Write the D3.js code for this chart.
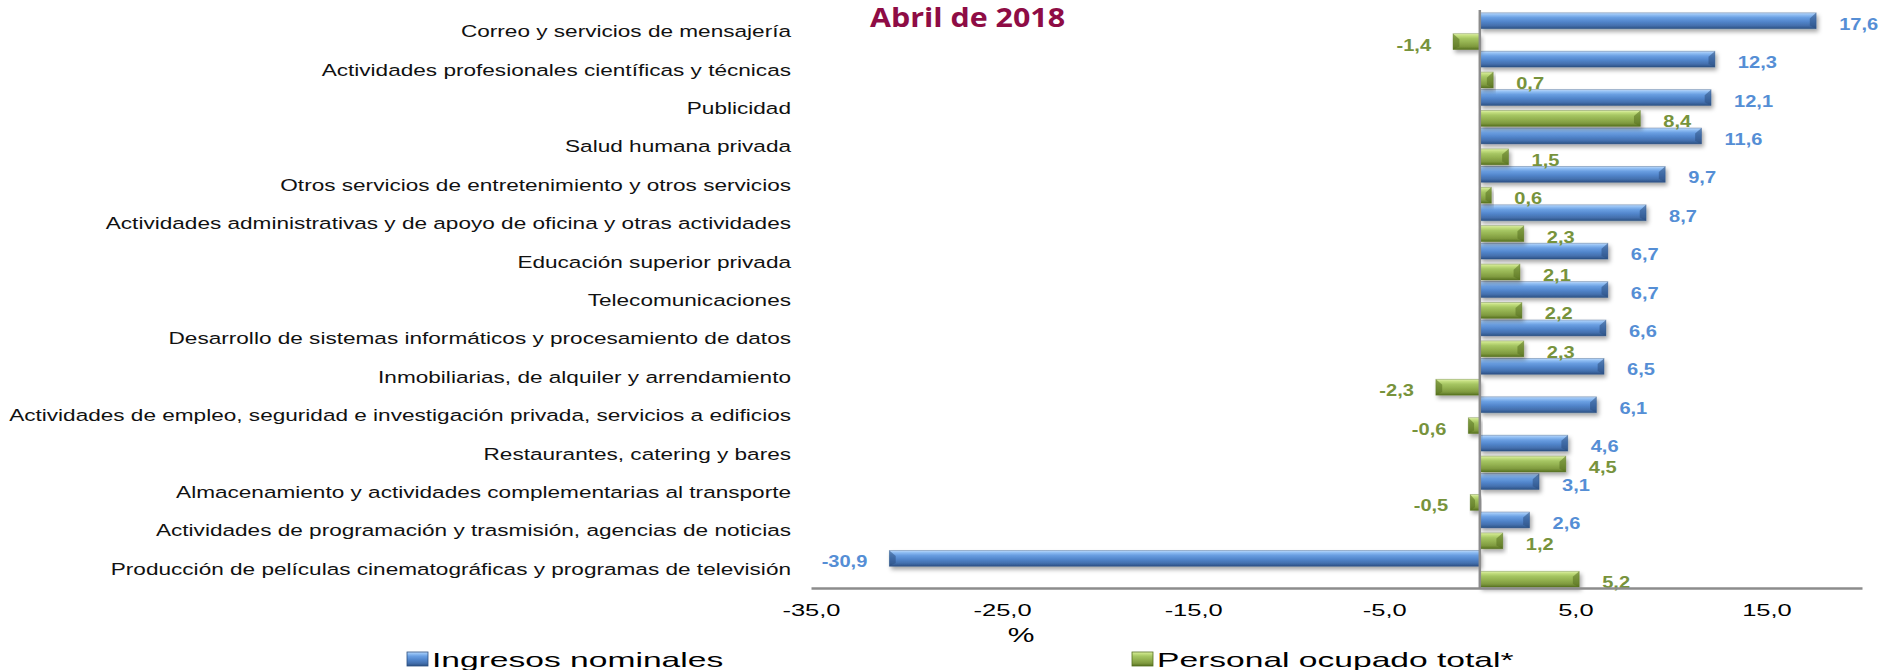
<!DOCTYPE html>
<html>
<head>
<meta charset="utf-8">
<script src="https://cdn.jsdelivr.net/npm/d3@7"></script>
<style>
  body { margin: 0; background: #fff; }
  svg { display: block; }
</style>
</head>
<body>
<div id="chart"></div>
<script>
const categories = [
  "Correo y servicios de mensajería",
  "Actividades profesionales científicas y técnicas",
  "Publicidad",
  "Salud humana privada",
  "Otros servicios de entretenimiento y otros servicios",
  "Actividades administrativas y de apoyo de oficina y otras actividades",
  "Educación superior privada",
  "Telecomunicaciones",
  "Desarrollo de sistemas informáticos y procesamiento de datos",
  "Inmobiliarias, de alquiler y arrendamiento",
  "Actividades de empleo, seguridad e investigación privada, servicios a edificios",
  "Restaurantes, catering y bares",
  "Almacenamiento y actividades complementarias al transporte",
  "Actividades de programación y trasmisión, agencias de noticias",
  "Producción de películas cinematográficas y programas de televisión"
];
const ingresos = [17.6, 12.3, 12.1, 11.6, 9.7, 8.7, 6.7, 6.7, 6.6, 6.5, 6.1, 4.6, 3.1, 2.6, -30.9];
const personal = [-1.4, 0.7, 8.4, 1.5, 0.6, 2.3, 2.1, 2.2, 2.3, -2.3, -0.6, 4.5, -0.5, 1.2, 5.2];
const seriesNames = ["Ingresos nominales", "Personal ocupado total*"];
const tickValues = [-35, -25, -15, -5, 5, 15];
const titleText = "Abril de 2018";

(() => {
    const width = 1887, height = 670;
    const fmt = v => v.toFixed(1).replace(".", ",");

    const series = [
        { key: "ing", name: seriesNames[0], values: ingresos, grad: "gBlue", label: "#558ED5", edge: "#2B4F80" },
        { key: "per", name: seriesNames[1], values: personal, grad: "gGreen", label: "#77933C", edge: "#55701F" }
    ];

    const x = d3.scaleLinear().domain([-35, 20]).range([811, 1862]);
    const y = d3.scaleBand().domain(categories).range([12, 588]).padding(0);
    const ySub = d3.scaleBand().domain(series.map(s => s.key))
        .range([0, y.bandwidth()]).paddingInner(0.24).paddingOuter(0.04);

    const svg = d3.select("#chart").append("svg")
        .attr("width", width).attr("height", height);

    const defs = svg.append("defs");
    const grads = {
        gBlue: [["0%", "#C2DCFA"], ["12%", "#93C0F4"], ["30%", "#6A9FE2"], ["55%", "#5286CC"], ["80%", "#4470AE"], ["100%", "#2C5184"]],
        gGreen: [["0%", "#E2F2B0"], ["12%", "#C4DF80"], ["30%", "#A6C663"], ["55%", "#93B150"], ["80%", "#7F9A3F"], ["100%", "#56701F"]]
    };
    Object.entries(grads).forEach(([id, stops]) => {
        const g = defs.append("linearGradient").attr("id", id)
            .attr("x1", 0).attr("y1", 0).attr("x2", 0).attr("y2", 1);
        stops.forEach(([o, c]) => g.append("stop").attr("offset", o).attr("stop-color", c));
    });
    defs.append("filter").attr("id", "shadow")
        .attr("x", "-10%").attr("y", "-30%").attr("width", "130%").attr("height", "190%")
        .append("feDropShadow")
        .attr("dx", 2).attr("dy", 3).attr("stdDeviation", 2)
        .attr("flood-color", "#000").attr("flood-opacity", 0.35);

    // title (kept just inside the top edge)
    svg.append("text")
        .attr("transform", "translate(870,27) scale(1.17,1)")
        .style("font-family", "'Open Sans', sans-serif")
        .style("font-weight", 700)
        .style("font-size", "26px")
        .attr("fill", "#8E0C45")
        .text(titleText);

    // category labels
    svg.append("g").selectAll("text")
        .data(categories)
        .enter().append("text")
        .attr("transform", d => `translate(791,${y(d) + y.bandwidth() / 2 + 6}) scale(1.37,1)`)
        .attr("text-anchor", "end")
        .style("font-family", "'Liberation Sans', Arial, sans-serif")
        .style("font-size", "16.5px")
        .attr("fill", "#111")
        .text(d => d);

    // bars with a small bevel at the outer end
    series.forEach(s => {
        const data = categories.map((c, i) => ({ cat: c, v: s.values[i] }));
        const h = ySub.bandwidth();
        const bars = svg.append("g").selectAll("g")
            .data(data)
            .enter().append("g")
            .attr("filter", "url(#shadow)");

        bars.append("rect")
            .attr("x", d => x(Math.min(0, d.v)))
            .attr("y", d => y(d.cat) + ySub(s.key))
            .attr("width", d => Math.abs(x(d.v) - x(0)))
            .attr("height", h)
            .attr("fill", `url(#${s.grad})`);

        bars.append("path")
            .attr("d", d => {
                const top = y(d.cat) + ySub(s.key), bot = top + h;
                const end = x(d.v), dir = d.v >= 0 ? -1 : 1;
                const b = Math.min(h * 0.4, Math.abs(end - x(0)) / 2);
                return `M${end},${top}L${end + dir * b},${top + h * 0.35}L${end + dir * b},${bot - h * 0.2}L${end},${bot}Z`;
            })
            .attr("fill", s.edge)
            .attr("opacity", 0.55);

        bars.append("rect")
            .attr("x", d => x(Math.min(0, d.v)))
            .attr("y", d => y(d.cat) + ySub(s.key))
            .attr("width", d => Math.abs(x(d.v) - x(0)))
            .attr("height", h)
            .attr("fill", "none")
            .attr("stroke", s.edge)
            .attr("stroke-opacity", 0.45)
            .attr("stroke-width", 0.8);

        svg.append("g").selectAll("text")
            .data(data)
            .enter().append("text")
            .attr("transform", d => {
                const tx = d.v >= 0 ? x(d.v) + 23 : x(d.v) - 22;
                const ty = y(d.cat) + ySub(s.key) + h / 2 + 9;
                return `translate(${tx},${ty}) scale(1.18,1)`;
            })
            .attr("text-anchor", d => d.v >= 0 ? "start" : "end")
            .style("font-family", "'Liberation Sans', Arial, sans-serif")
            .style("font-weight", 700)
            .style("font-size", "17px")
            .attr("fill", s.label)
            .text(d => fmt(d.v));
    });

    // zero line
    svg.append("line")
        .attr("x1", x(0)).attr("x2", x(0))
        .attr("y1", y.range()[0] - 2).attr("y2", y.range()[1])
        .attr("stroke", "#8C8C8C").attr("stroke-width", 2.5);

    // x axis
    const axis = svg.append("g")
        .attr("transform", `translate(0,${y.range()[1]})`)
        .call(d3.axisBottom(x).tickValues(tickValues).tickSize(0).tickFormat(fmt));
    axis.select(".domain").attr("stroke", "#8C8C8C").attr("stroke-width", 2.5);
    axis.selectAll("text")
        .attr("y", 0)
        .attr("dy", 0)
        .attr("transform", "translate(0,28) scale(1.5,1)")
        .style("font-family", "'Liberation Sans', Arial, sans-serif")
        .style("font-size", "17px")
        .attr("fill", "#000");

    svg.append("text")
        .attr("transform", `translate(${x(-24)},642) scale(1.5,1)`)
        .attr("text-anchor", "middle")
        .style("font-family", "'Liberation Sans', Arial, sans-serif")
        .style("font-size", "20px")
        .text("%");

    // legend
    const legendX = [407, 1132];
    series.forEach((s, i) => {
        const g = svg.append("g").attr("transform", `translate(${legendX[i]},652)`);
        g.append("rect")
            .attr("width", 21).attr("height", 14)
            .attr("fill", `url(#${s.grad})`)
            .attr("stroke", s.edge).attr("stroke-width", 0.8);
        g.append("text")
            .attr("transform", "translate(25,15) scale(1.6,1)")
            .style("font-family", "'Liberation Sans', Arial, sans-serif")
            .style("font-size", "21px")
            .attr("fill", "#000")
            .text(s.name);
    });
})();
</script>
</body>
</html>
